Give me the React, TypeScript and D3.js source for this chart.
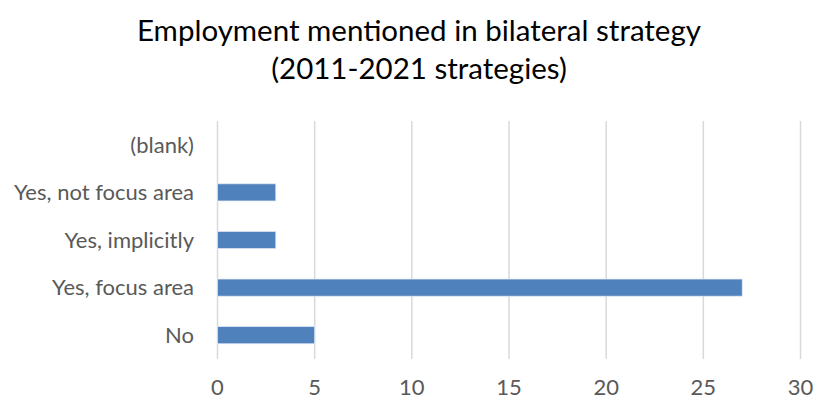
import React from "react";
import * as d3 from "d3";

const categories = ["(blank)", "Yes, not focus area", "Yes, implicitly", "Yes, focus area", "No"];
const values = [0, 3, 3, 27, 5];
const xTicks = [0, 5, 10, 15, 20, 25, 30];
const titleLines = ["Employment mentioned in bilateral strategy", "(2011-2021 strategies)"];

const W = 815;
const H = 400;
const FONT = "Lato, 'Open Sans', sans-serif";

export default function App() {
  const x = d3.scaleLinear().domain([0, 30]).range([217.5, 800.5]);
  const y = d3.scaleBand<string>().domain(categories).range([121, 359]).padding(0);
  const barH = y.bandwidth() * 0.36;

  return (
    <svg width={W} height={H} style={{ position: "absolute", left: 0, top: 0, background: "#fff" }}>
      <rect x={0} y={0} width={W} height={H} fill="#fff" />
      {titleLines.map((t, i) => (
        <text key={t} x={419} y={41 + i * 38} textAnchor="middle" fontFamily={FONT} fontSize={29.5} fill="#000">
          {t}
        </text>
      ))}
      {xTicks.map((t) => (
        <g key={t}>
          <line x1={x(t)} x2={x(t)} y1={121} y2={359} stroke="#d9d9d9" strokeWidth={1.5} />
          <text x={x(t)} y={395} textAnchor="middle" fontFamily={FONT} fontSize={22} fill="#595959">
            {t}
          </text>
        </g>
      ))}
      {categories.map((c, i) => {
        const cy = (y(c) ?? 0) + y.bandwidth() / 2;
        return (
          <g key={c}>
            {values[i] > 0 && (
              <rect
                x={x(0)}
                y={cy - barH / 2}
                width={x(values[i]) - x(0)}
                height={barH}
                fill="#4f81bd"
                stroke="#dfe7f2"
                strokeWidth={0.75}
              />
            )}
            <text x={194} y={cy} dy="0.35em" textAnchor="end" fontFamily={FONT} fontSize={22} fill="#595959">
              {c}
            </text>
          </g>
        );
      })}
    </svg>
  );
}
